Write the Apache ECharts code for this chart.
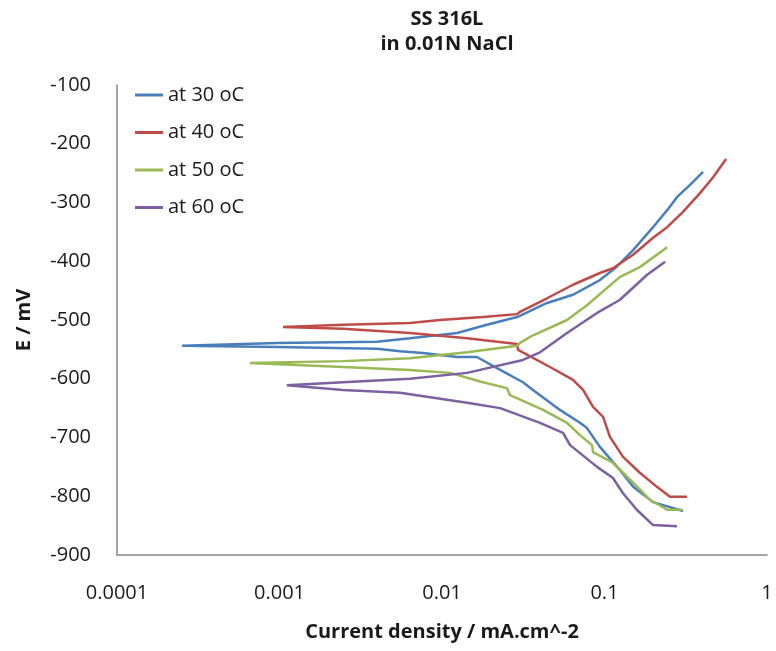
<!DOCTYPE html>
<html>
<head>
<meta charset="utf-8">
<script src="https://cdn.jsdelivr.net/npm/echarts@6/dist/echarts.min.js"></script>
<style>
html,body{margin:0;padding:0;background:#fff;}
#chart{width:776px;height:651px;}
</style>
</head>
<body>
<div id="chart"></div>
<script>
// Current density (mA.cm^-2) values, from cathodic end -> corrosion tip -> anodic end
var seriesNames = ['at 30 oC', 'at 40 oC', 'at 50 oC', 'at 60 oC'];
var xTickLabels = ['0.0001', '0.001', '0.01', '0.1', '1'];
var yTickValues = [-900, -800, -700, -600, -500, -400, -300, -200, -100];

var i30 = [0.304, 0.199, 0.150, 0.124, 0.0937, 0.078, 0.0706, 0.0532, 0.0363, 0.0315, 0.0218, 0.0164, 0.0124, 0.00764, 0.00552, 0.00398, 0.00097, 0.000251,
           0.00097, 0.00398, 0.00635, 0.0124, 0.0189, 0.029, 0.0443, 0.064, 0.0937, 0.116, 0.150, 0.199, 0.243, 0.279, 0.336, 0.404];
var e30 = [-825, -810, -784, -755, -716, -684, -675, -653, -619, -606, -582, -563, -563, -556, -553, -549, -546, -544,
           -539, -537, -531, -522, -508, -495, -471, -457, -432, -412, -381, -342, -313, -291, -270, -248];

var i40 = [0.322, 0.253, 0.210, 0.165, 0.130, 0.108, 0.098, 0.085, 0.0738, 0.064, 0.0462, 0.0294, 0.029, 0.01426, 0.00635, 0.00246, 0.00105,
           0.00246, 0.00635, 0.00973, 0.01786, 0.029, 0.0302, 0.0443, 0.064, 0.0937, 0.1127, 0.150, 0.199, 0.243, 0.304, 0.387, 0.466, 0.560];
var e40 = [-801, -801, -784, -760, -733, -699, -665, -648, -619, -602, -580, -551, -541, -531, -522, -515, -512,
           -508, -505, -500, -495, -490, -486, -463, -440, -420, -412, -389, -360, -342, -316, -284, -257, -226];

var i50 = [0.300, 0.243, 0.1905, 0.150, 0.1127, 0.085, 0.0838, 0.0706, 0.0588, 0.0419, 0.0262, 0.0251, 0.01786, 0.0112, 0.00635, 0.00246, 0.000658,
           0.00246, 0.00635, 0.01426, 0.029, 0.0302, 0.0363, 0.0588, 0.078, 0.124, 0.165, 0.243];
var e50 = [-823, -823, -806, -777, -743, -725, -713, -696, -675, -653, -628, -616, -606, -590, -585, -580, -573,
           -570, -565, -555, -544, -539, -526, -500, -475, -427, -410, -376];

var i60 = [0.279, 0.199, 0.158, 0.130, 0.1127, 0.090, 0.0614, 0.0556, 0.0401, 0.0228, 0.01426, 0.00552, 0.00246, 0.00111,
           0.00246, 0.00635, 0.01426, 0.0315, 0.0401, 0.0588, 0.090, 0.124, 0.183, 0.236];
var e60 = [-851, -849, -823, -795, -769, -750, -713, -692, -675, -650, -641, -624, -619, -611,
           -606, -600, -590, -568, -555, -522, -488, -466, -423, -401];

var colors = ['#4a7ebb', '#be4b48', '#98b954', '#7d60a0'];
function pairs(xs, ys) { return xs.map(function (x, k) { return [x, ys[k]]; }); }
var allI = [i30, i40, i50, i60];
var allE = [e30, e40, e50, e60];

var FONT = 'Open Sans';
var chart = echarts.init(document.getElementById('chart'), null, {renderer: 'canvas'});
chart.setOption({
  animation: false,
  backgroundColor: '#fff',
  title: {
    text: 'SS 316L\nin 0.01N NaCl',
    left: 442, top: 2, textAlign: 'center',
    textStyle: {fontFamily: FONT, fontSize: 20, fontWeight: 'bold', color: '#1a1a1a', lineHeight: 25}
  },
  legend: {
    orient: 'vertical', left: 130, top: 80,
    icon: 'rect',
    itemWidth: 28, itemHeight: 3, itemGap: 17.5,
    data: seriesNames,
    textStyle: {fontFamily: FONT, fontSize: 20, color: '#1a1a1a'}
  },
  grid: {left: 117, right: 9, top: 85, bottom: 96, containLabel: false},
  xAxis: {
    type: 'log', logBase: 10, min: 0.0001, max: 1,
    name: 'Current density / mA.cm^-2', nameLocation: 'middle', nameGap: 67,
    nameTextStyle: {fontFamily: FONT, fontSize: 20, fontWeight: 'bold', color: '#1a1a1a'},
    axisLine: {lineStyle: {color: '#868686', width: 1.5}},
    axisTick: {show: false},
    splitLine: {show: false},
    minorTick: {show: false},
    axisLabel: {
      fontFamily: FONT, fontSize: 20, color: '#1a1a1a', margin: 28,
      formatter: function (v) {
        var k = Math.round(Math.log10(v)) + 4;
        return xTickLabels[k] !== undefined ? xTickLabels[k] : '';
      }
    }
  },
  yAxis: {
    type: 'value', min: yTickValues[0], max: yTickValues[yTickValues.length - 1], interval: 100,
    name: 'E / mV', nameLocation: 'middle', nameGap: 83, nameRotate: 90,
    nameTextStyle: {fontFamily: FONT, fontSize: 20, fontWeight: 'bold', color: '#1a1a1a'},
    axisLine: {show: true, lineStyle: {color: '#868686', width: 1.5}},
    axisTick: {show: false},
    splitLine: {show: false},
    axisLabel: {fontFamily: FONT, fontSize: 20, color: '#1a1a1a', margin: 26}
  },
  series: seriesNames.map(function (n, k) {
    return {
      name: n, type: 'line', data: pairs(allI[k], allE[k]),
      symbol: 'none', smooth: false,
      color: colors[k],
      lineStyle: {color: colors[k], width: 2.5}
    };
  })
});
</script>
</body>
</html>
